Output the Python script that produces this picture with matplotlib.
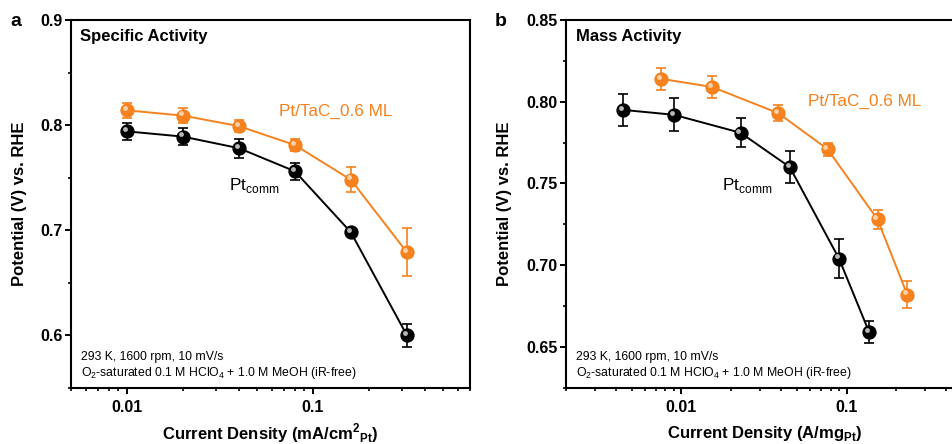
import matplotlib
matplotlib.use("Agg")
import matplotlib.pyplot as plt
import matplotlib.transforms as mtransforms
from matplotlib.ticker import MultipleLocator, FixedLocator, LogLocator, NullFormatter

plt.rcParams['font.family'] = ['Liberation Sans', 'DejaVu Sans']
plt.rcParams['mathtext.fontset'] = 'custom'
plt.rcParams['mathtext.rm'] = 'Liberation Sans'
plt.rcParams['mathtext.bf'] = 'Liberation Sans:bold'

# ---- data: panel a (specific activity) ----
a_comm_x = [0.01, 0.02, 0.04, 0.08, 0.16, 0.32]
a_comm_y = [0.794, 0.789, 0.778, 0.756, 0.698, 0.600]
a_comm_e = [0.008, 0.008, 0.009, 0.008, 0.003, 0.011]
a_tac_x = [0.01, 0.02, 0.04, 0.08, 0.16, 0.32]
a_tac_y = [0.814, 0.809, 0.799, 0.781, 0.748, 0.679]
a_tac_e = [0.007, 0.007, 0.006, 0.006, 0.012, 0.023]

# ---- data: panel b (mass activity) ----
b_comm_x = [0.00443, 0.0090, 0.0228, 0.0453, 0.090, 0.137]
b_comm_y = [0.795, 0.792, 0.781, 0.760, 0.704, 0.659]
b_comm_e = [0.010, 0.010, 0.009, 0.010, 0.012, 0.0066]
b_tac_x = [0.00757, 0.01535, 0.0386, 0.0767, 0.154, 0.233]
b_tac_y = [0.814, 0.809, 0.793, 0.771, 0.728, 0.682]
b_tac_e = [0.0068, 0.0067, 0.005, 0.004, 0.006, 0.0085]

ORANGE = '#F5821F'
BLACK = '#000000'

W, H = 953, 444
fig = plt.figure(figsize=(W / 100, H / 100), dpi=100)

def px_ax(l, t, r, b):
    return fig.add_axes([l / W, 1 - b / H, (r - l) / W, (b - t) / H])

axa = px_ax(71, 20, 470, 387.7)
axb = px_ax(566, 20, 1011.7, 387.7)

def series(ax, x, y, e, color, hl):
    ax.errorbar(x, y, yerr=e, color=color, lw=1.4, elinewidth=1.2,
                capsize=3.5, capthick=1.2, marker='o', ms=9.3,
                mfc=color, mec=color, zorder=3)
    off = mtransforms.ScaledTranslation(-1.6 / 72, 1.6 / 72, fig.dpi_scale_trans)
    ax.plot(x, y, 'o', ms=3.5, mfc=hl, mec='none', alpha=0.85,
            transform=ax.transData + off, zorder=4)

def style(ax, ylim, major, minor, xlim):
    ax.set_xscale('log')
    ax.set_xlim(*xlim)
    ax.set_ylim(*ylim)
    ax.yaxis.set_major_locator(MultipleLocator(major))
    ax.yaxis.set_minor_locator(MultipleLocator(minor))
    ax.xaxis.set_major_locator(FixedLocator([0.01, 0.1]))
    ax.xaxis.set_minor_locator(LogLocator(base=10, subs=range(2, 10)))
    ax.xaxis.set_minor_formatter(NullFormatter())
    ax.set_xticklabels(['0.01', '0.1'])
    for s in ax.spines.values():
        s.set_linewidth(1.5)
    ax.tick_params(which='major', direction='out', length=4.5, width=1.4,
                   labelsize=11.5, pad=1.5)
    ax.tick_params(which='minor', direction='out', length=2.5, width=1.2)
    ax.tick_params(axis='x', which='major', pad=4)
    for lab in ax.get_xticklabels() + ax.get_yticklabels():
        lab.set_fontweight('bold')

# Panel a
series(axa, a_comm_x, a_comm_y, a_comm_e, BLACK, '#d8d8d8')
series(axa, a_tac_x, a_tac_y, a_tac_e, ORANGE, '#fde0c4')
style(axa, (0.55, 0.9), 0.1, 0.05, (0.005, 0.7))
axa.set_yticks([0.6, 0.7, 0.8, 0.9])
axa.set_yticklabels(['0.6', '0.7', '0.8', '0.9'], fontweight='bold')

# Panel b
series(axb, b_comm_x, b_comm_y, b_comm_e, BLACK, '#d8d8d8')
series(axb, b_tac_x, b_tac_y, b_tac_e, ORANGE, '#fde0c4')
style(axb, (0.625, 0.85), 0.05, 0.025, (0.002, 1.0))
axb.set_yticks([0.65, 0.70, 0.75, 0.80, 0.85])
axb.set_yticklabels(['0.65', '0.70', '0.75', '0.80', '0.85'], fontweight='bold')

# Labels
def fx(px):
    return px / W

def fy(py):
    return 1 - py / H

fig.text(fx(20), fy(204), 'Potential (V) vs. RHE', rotation=90, fontsize=12,
         fontweight='bold', ha='center', va='center')
fig.text(fx(505), fy(204), 'Potential (V) vs. RHE', rotation=90, fontsize=12,
         fontweight='bold', ha='center', va='center')
fig.text(fx(270), fy(433), r'Current Density (mA/cm$^{\mathbf{2}}$$_{\mathbf{Pt}}$)',
         fontsize=12, fontweight='bold', ha='center', va='center')
fig.text(fx(765), fy(433), r'Current Density (A/mg$_{\mathbf{Pt}}$)',
         fontsize=12, fontweight='bold', ha='center', va='center')

fig.text(fx(10), fy(22), 'a', fontsize=14, fontweight='bold', ha='left', va='center')
fig.text(fx(495), fy(22), 'b', fontsize=14, fontweight='bold', ha='left', va='center')

fig.text(fx(80), fy(37), 'Specific Activity', fontsize=12, fontweight='bold',
         ha='left', va='center')
fig.text(fx(576), fy(37), 'Mass Activity', fontsize=12, fontweight='bold',
         ha='left', va='center')

fig.text(fx(279), fy(111), 'Pt/TaC_0.6 ML', fontsize=12.3, color=ORANGE,
         ha='left', va='center')
fig.text(fx(808), fy(101), 'Pt/TaC_0.6 ML', fontsize=12.3, color=ORANGE,
         ha='left', va='center')
fig.text(fx(229), fy(185), r'Pt$_{\mathrm{comm}}$', fontsize=12.3, ha='left', va='center')
fig.text(fx(722), fy(185), r'Pt$_{\mathrm{comm}}$', fontsize=12.3, ha='left', va='center')

for x0 in (81, 576):
    fig.text(fx(x0), fy(357), '293 K, 1600 rpm, 10 mV/s', fontsize=8.8,
             ha='left', va='center')
    fig.text(fx(x0), fy(373),
             r'O$_2$-saturated 0.1 M HClO$_4$ + 1.0 M MeOH (iR-free)',
             fontsize=8.8, ha='left', va='center')

fig.savefig('out.png', dpi=100)
